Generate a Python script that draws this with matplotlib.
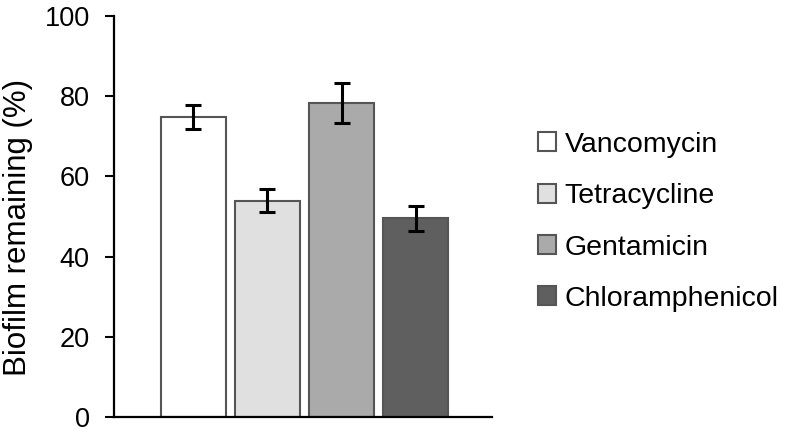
import matplotlib
matplotlib.use("Agg")
import matplotlib.pyplot as plt
from matplotlib.patches import Patch

plt.rcParams['font.family'] = ['Liberation Sans', 'DejaVu Sans']

categories = ["Vancomycin", "Tetracycline", "Gentamicin", "Chloramphenicol"]
values = [74.8, 54.0, 78.3, 49.6]
errors = [3.0, 2.9, 5.0, 3.1]
colors = ["#ffffff", "#e0e0e0", "#aaaaaa", "#5f5f5f"]
yticks = [0, 20, 40, 60, 80, 100]

fig = plt.figure(figsize=(7.86, 4.37), dpi=100)
ax = fig.add_axes([0.145, 0.046, 0.481, 0.917])

x = list(range(len(categories)))
ax.bar(x, values, width=0.88, color=colors, edgecolor="#555555", linewidth=1.5,
       yerr=errors, capsize=5.5, error_kw=dict(ecolor="black", elinewidth=2.2, capthick=2.2),
       zorder=2)

ax.set_xlim(-1.07, 4.03)
ax.set_ylim(0, 100)
ax.set_yticks(yticks)
ax.set_xticks([])
ax.tick_params(axis='y', labelsize=19.5, length=6.5, width=1.5, direction='out', pad=11)
for s in ['top', 'right']:
    ax.spines[s].set_visible(False)
for s in ['left', 'bottom']:
    ax.spines[s].set_linewidth(1.6)
ax.set_ylabel("Biofilm remaining (%)", fontsize=22.5)
ax.yaxis.set_label_coords(-0.215, 0.474)

handles = [Patch(facecolor=c, edgecolor="#555555", linewidth=1.5) for c in colors]
fig.legend(handles, categories, loc='upper left', bbox_to_anchor=(0.684, 0.698),
           frameon=False, fontsize=20.5, handlelength=0.65, handleheight=0.65,
           handletextpad=0.3, labelspacing=0.89, borderaxespad=0, borderpad=0)

fig.savefig("out.png", dpi=100)
